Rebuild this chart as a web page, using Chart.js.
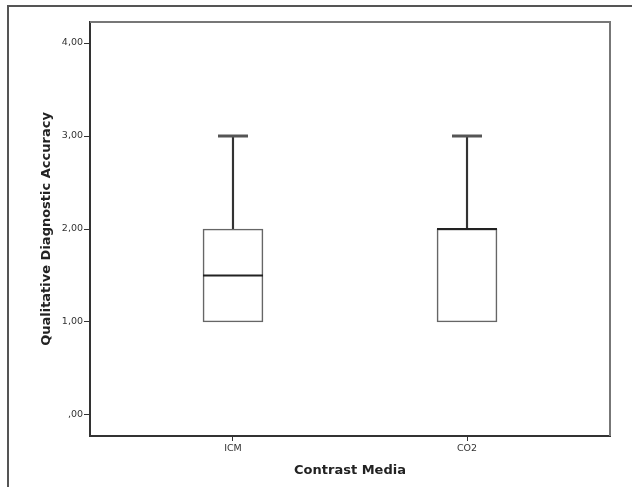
<!DOCTYPE html>
<html lang="en">
<head>
    <meta charset="UTF-8">
    <title>Qualitative Diagnostic Accuracy by Contrast Media</title>
    <script src="https://cdn.jsdelivr.net/npm/chart.js"></script>
    <style>
        body {
            margin: 0;
            background: #fff;
        }
        .frame {
            position: absolute;
            left: 7px;
            top: 5px;
            width: 640px;
            height: 500px;
            border-top: 2px solid #555;
            border-left: 2px solid #555;
        }
        .chart-container {
            position: absolute;
            left: 0;
            top: 0;
            width: 632px;
            height: 487px;
        }
    </style>
</head>
<body>
    <div class="frame"></div>
    <div class="chart-container">
        <canvas id="boxChart" width="632" height="487"></canvas>
    </div>

<script>
    // boxplot summary per group
    const categories = ["ICM", "CO2"];
    const xPos = [1, 2];
    const whiskerMin = [1, 1];
    const q1 = [1, 1];
    const median = [1.5, 2];
    const q3 = [2, 2];
    const whiskerMax = [3, 3];

    const yTicks = [0, 1, 2, 3, 4];
    const yTickLabels = [",00", "1,00", "2,00", "3,00", "4,00"];

    const tickFont = { family: "DejaVu Sans", size: 9.5 };
    const titleFont = { family: "DejaVu Sans", size: 13, weight: "bold" };

    // top and right edges of the plot frame
    const frameEdges = {
        id: "frameEdges",
        afterDraw(chart) {
            const { ctx, chartArea: a } = chart;
            ctx.save();
            ctx.strokeStyle = "#777";
            ctx.lineWidth = 2;
            ctx.beginPath();
            ctx.moveTo(a.left, a.top);
            ctx.lineTo(a.right, a.top);
            ctx.lineTo(a.right, a.bottom);
            ctx.stroke();
            ctx.restore();
        }
    };

    const ctx = document.getElementById("boxChart").getContext("2d");

    new Chart(ctx, {
        data: {
            datasets: [
                {
                    type: "line",
                    label: "median",
                    data: xPos.map((x, i) => ({ x: x, y: median[i] })),
                    showLine: false,
                    pointStyle: "line",
                    pointRadius: 30,
                    pointBorderWidth: 2,
                    pointBorderColor: "#222",
                    order: 0
                },
                {
                    type: "line",
                    label: "caps",
                    data: xPos.map((x, i) => ({ x: x, y: whiskerMax[i] > q3[i] ? whiskerMax[i] : null }))
                        .concat(xPos.map((x, i) => ({ x: x, y: whiskerMin[i] < q1[i] ? whiskerMin[i] : null }))),
                    showLine: false,
                    pointStyle: "line",
                    pointRadius: 15,
                    pointBorderWidth: 3,
                    pointBorderColor: "#555",
                    order: 1
                },
                {
                    type: "bar",
                    label: "box",
                    data: xPos.map((x, i) => ({ x: x, y: [q1[i], q3[i]] })),
                    backgroundColor: "#fff",
                    borderColor: "#666",
                    borderWidth: 1.6,
                    borderSkipped: false,
                    barThickness: 60,
                    grouped: false,
                    order: 2
                },
                {
                    type: "bar",
                    label: "upper whisker",
                    data: xPos.map((x, i) => ({ x: x, y: [q3[i], whiskerMax[i]] })),
                    backgroundColor: "#333",
                    borderWidth: 0,
                    barThickness: 1.5,
                    grouped: false,
                    order: 3
                },
                {
                    type: "bar",
                    label: "lower whisker",
                    data: xPos.map((x, i) => ({ x: x, y: whiskerMin[i] < q1[i] ? [whiskerMin[i], q1[i]] : null })),
                    backgroundColor: "#333",
                    borderWidth: 0,
                    barThickness: 1.5,
                    grouped: false,
                    order: 3
                }
            ]
        },
        options: {
            responsive: false,
            animation: false,
            layout: {
                autoPadding: false,
                padding: { top: 22, right: 22, left: 0, bottom: 0 }
            },
            plugins: {
                legend: { display: false },
                tooltip: { enabled: false }
            },
            scales: {
                x: {
                    type: "linear",
                    min: 0.389,
                    max: 2.611,
                    offset: false,
                    afterFit: (s) => { s.height = 51; },
                    afterBuildTicks: (s) => { s.ticks = xPos.map(v => ({ value: v })); },
                    grid: { offset: false, drawOnChartArea: false, tickLength: 5, color: "#333", tickWidth: 1 },
                    border: { color: "#333", width: 2 },
                    ticks: {
                        font: tickFont,
                        color: "#333",
                        padding: 2,
                        maxRotation: 0,
                        callback: (v) => categories[xPos.indexOf(v)]
                    },
                    title: {
                        display: true,
                        text: "Contrast Media",
                        font: titleFont,
                        color: "#222",
                        padding: { top: 0, bottom: 9 }
                    }
                },
                y: {
                    min: -0.226,
                    max: 4.226,
                    afterFit: (s) => { s.width = 90; },
                    afterBuildTicks: (s) => { s.ticks = yTicks.map(v => ({ value: v })); },
                    grid: { drawOnChartArea: false, tickLength: 6, color: "#333", tickWidth: 1 },
                    border: { color: "#333", width: 2 },
                    ticks: {
                        font: tickFont,
                        color: "#333",
                        padding: 1,
                        callback: (v) => yTickLabels[yTicks.indexOf(v)]
                    },
                    title: {
                        display: true,
                        text: "Qualitative Diagnostic Accuracy",
                        font: titleFont,
                        color: "#222",
                        padding: { top: 39, bottom: 0 }
                    }
                }
            }
        },
        plugins: [frameEdges]
    });
</script>
</body>
</html>
